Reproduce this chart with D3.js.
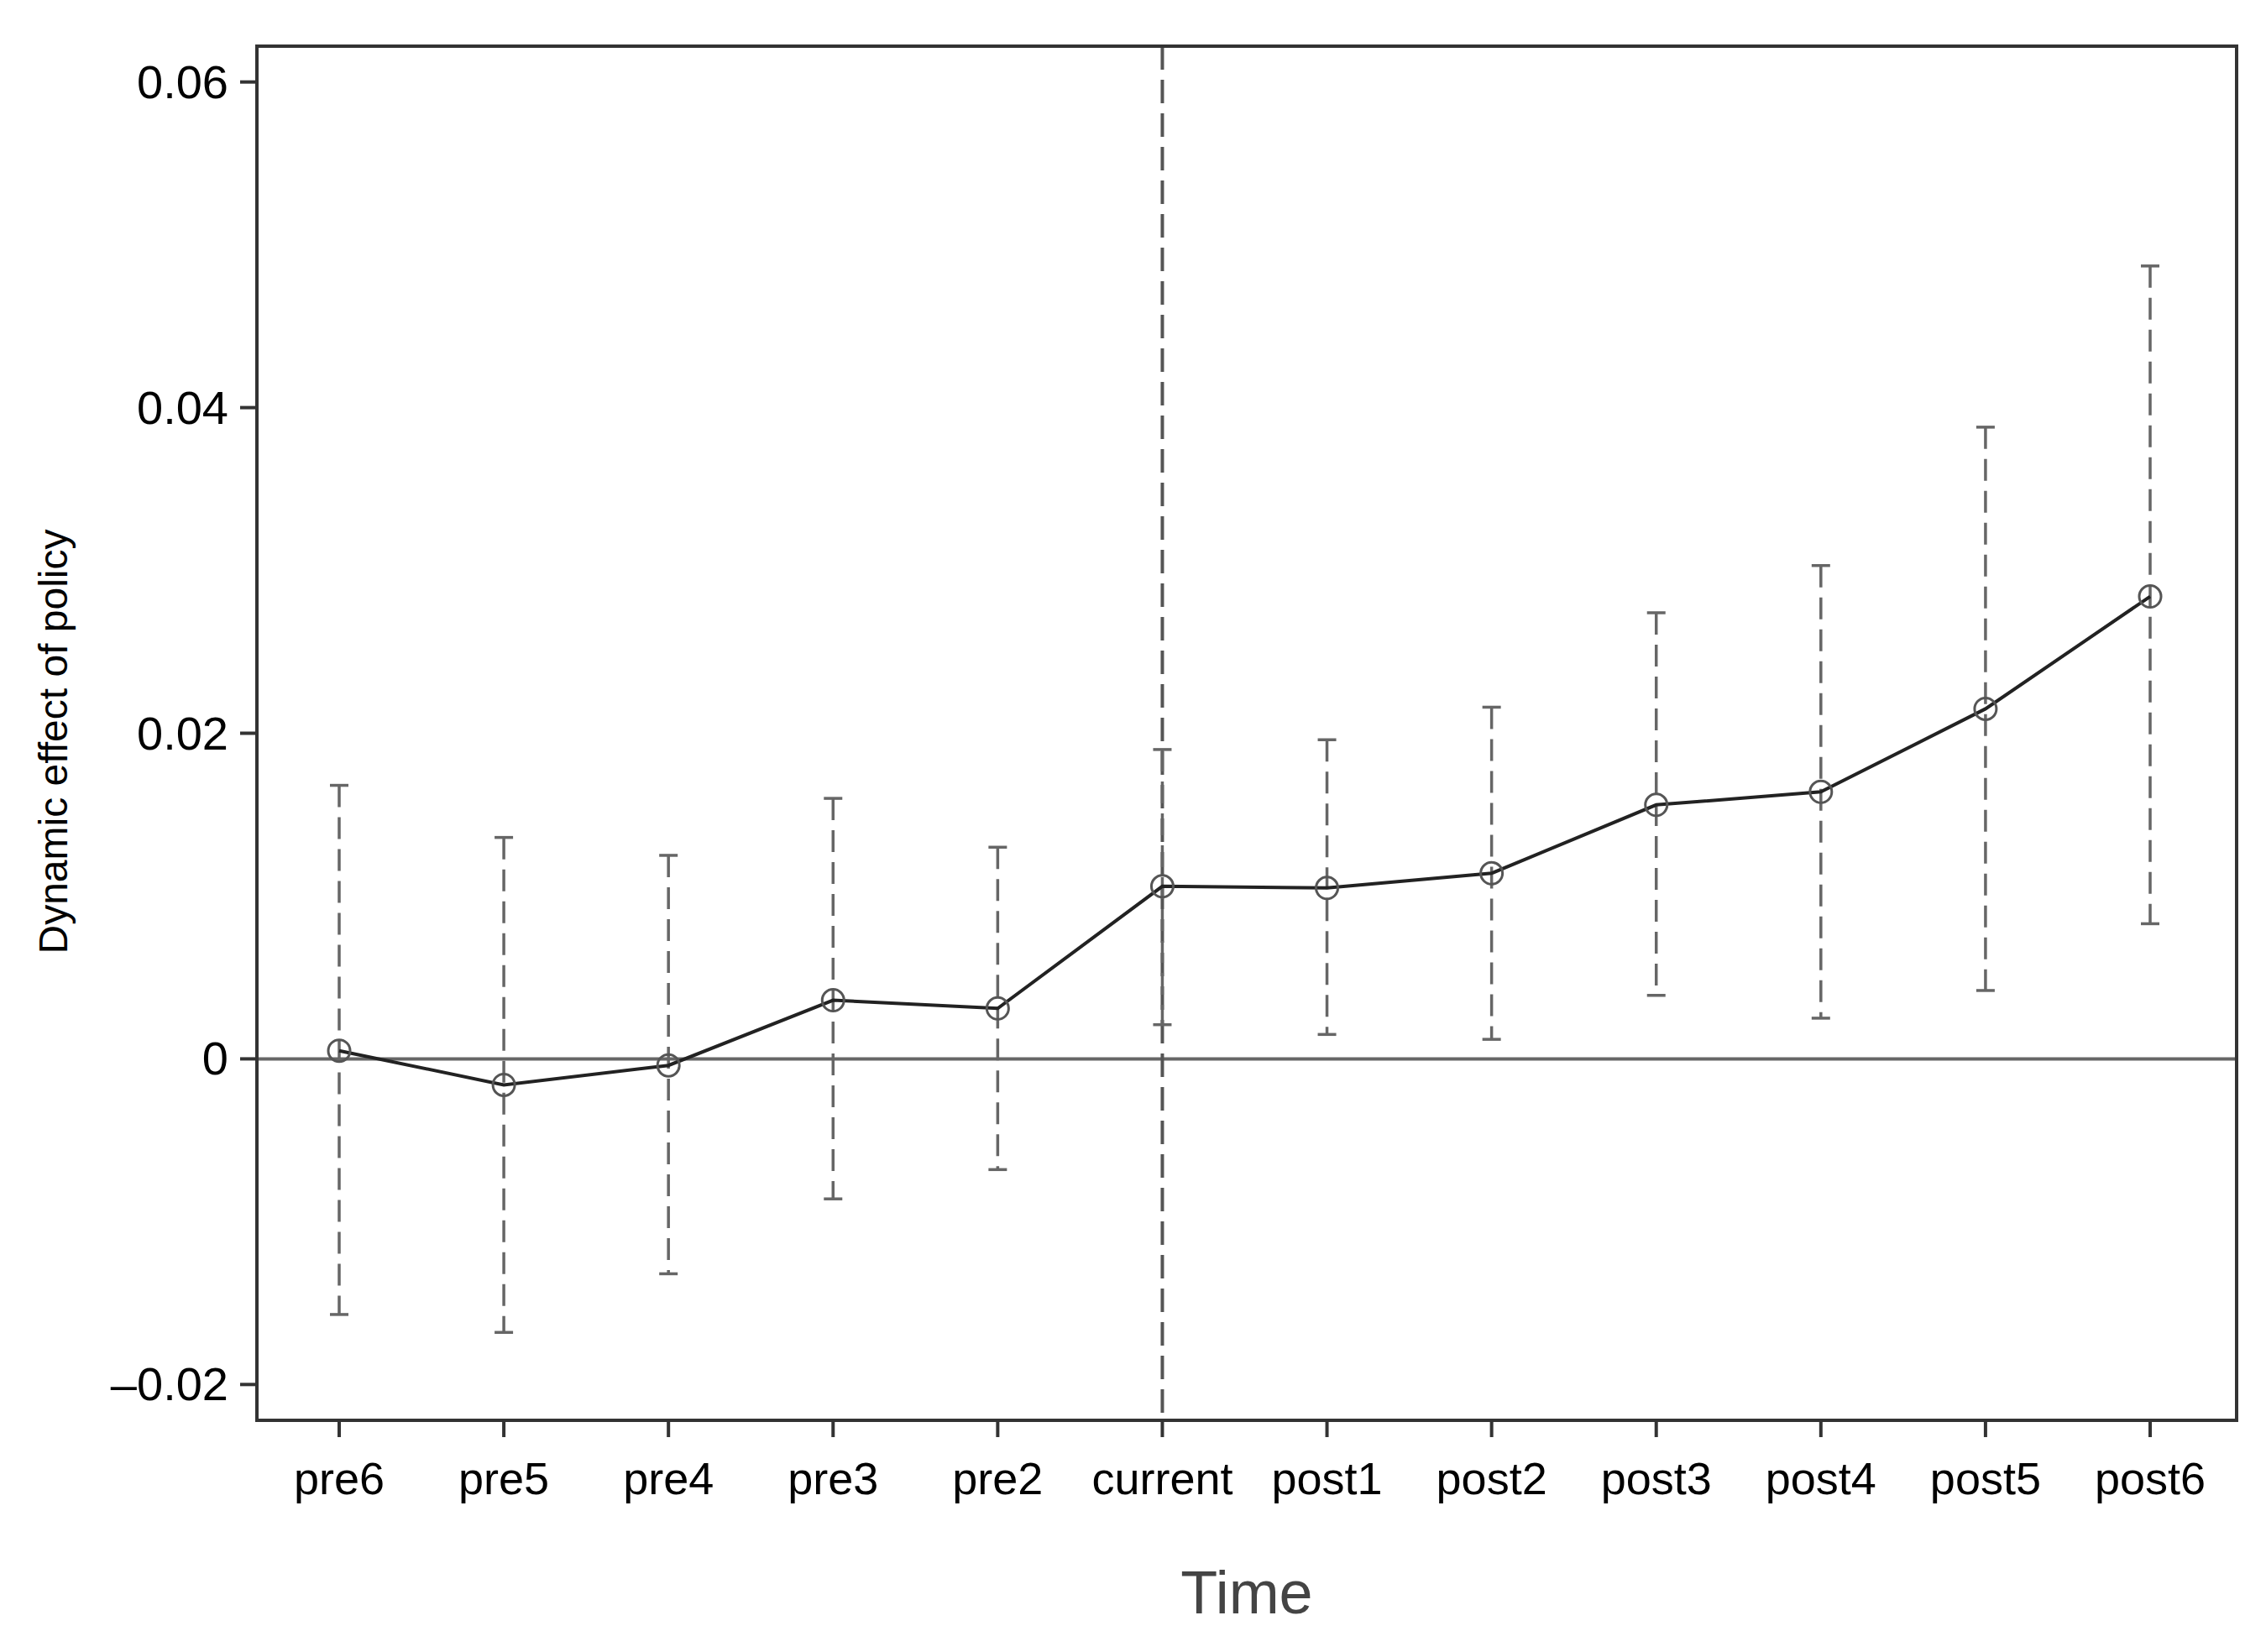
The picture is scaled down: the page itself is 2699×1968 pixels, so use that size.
<!DOCTYPE html>
<html><head><meta charset="utf-8">
<script src="https://cdn.jsdelivr.net/npm/d3@7"></script>
<style>body{margin:0;background:#fff}text{font-family:"Liberation Sans",Arial,sans-serif}</style>
</head><body><svg id="c" width="2699" height="1968"></svg>
<script>
var categories = ["pre6","pre5","pre4","pre3","pre2","current","post1","post2","post3","post4","post5","post6"];
var estimates = [0.0005,-0.0016,-0.0004,0.0036,0.0031,0.0106,0.0105,0.0114,0.0156,0.0164,0.0215,0.0284];
var upper = [0.0168,0.0136,0.0125,0.0160,0.0130,0.0190,0.0196,0.0216,0.0274,0.0303,0.0388,0.0487];
var lower = [-0.0157,-0.0168,-0.0132,-0.0086,-0.0068,0.0021,0.0015,0.0012,0.0039,0.0025,0.0042,0.0083];
var yTicks = [0.06,0.04,0.02,0,-0.02];
var yTickLabels = ["0.06","0.04","0.02","0","\u20130.02"];

var svg = d3.select("#c");
var L = 306, R = 2664, T = 55, B = 1692;
var x = d3.scalePoint().domain(categories).range([404,2561]);
var y = d3.scaleLinear().domain([-0.0222,0.0622]).range([B,T]);

// zero line & event line
svg.append("line").attr("x1",L).attr("x2",R).attr("y1",y(0)).attr("y2",y(0))
  .style("stroke","#666").style("stroke-width",4);
svg.append("line").attr("x1",x("current")).attr("x2",x("current")).attr("y1",T).attr("y2",B)
  .style("stroke","#555").style("stroke-width",4).style("stroke-dasharray","28,12");

// error bars
var g = svg.append("g");
categories.forEach(function(c,i){
  g.append("line").attr("x1",x(c)).attr("x2",x(c)).attr("y1",y(upper[i])).attr("y2",y(lower[i]))
    .style("stroke","#666").style("stroke-width",3.5).style("stroke-dasharray","26,12");
  [upper[i],lower[i]].forEach(function(v){
    g.append("line").attr("x1",x(c)-11).attr("x2",x(c)+11).attr("y1",y(v)).attr("y2",y(v))
      .style("stroke","#666").style("stroke-width",3.5);
  });
});

// estimate line and markers
svg.append("path").datum(estimates)
  .attr("d", d3.line().x(function(d,i){return x(categories[i])}).y(function(d){return y(d)}))
  .style("fill","none").style("stroke","#222").style("stroke-width",4);
svg.selectAll("circle.pt").data(estimates).enter().append("circle")
  .attr("cx",function(d,i){return x(categories[i])}).attr("cy",function(d){return y(d)}).attr("r",13)
  .style("fill","none").style("stroke","#555").style("stroke-width",3);

// frame
svg.append("rect").attr("x",L).attr("y",T).attr("width",R-L).attr("height",B-T)
  .style("fill","none").style("stroke","#333").style("stroke-width",4);

// y axis
yTicks.forEach(function(t,i){
  svg.append("line").attr("x1",L-20).attr("x2",L).attr("y1",y(t)).attr("y2",y(t)).style("stroke","#333").style("stroke-width",4);
  svg.append("text").attr("x",L-34).attr("y",y(t)+19).attr("text-anchor","end")
    .style("font-size","56px").text(yTickLabels[i]);
});
// x axis
categories.forEach(function(c){
  svg.append("line").attr("x1",x(c)).attr("x2",x(c)).attr("y1",B).attr("y2",B+20).style("stroke","#333").style("stroke-width",4);
  svg.append("text").attr("x",x(c)).attr("y",B+88).attr("text-anchor","middle")
    .style("font-size","54px").text(c);
});
svg.append("text").attr("x",(L+R)/2).attr("y",1922).attr("text-anchor","middle")
  .style("font-size","72px").style("fill","#444").text("Time");
svg.append("text").attr("transform","translate(80,"+((T+B)/2+10)+") rotate(-90)").attr("text-anchor","middle")
  .style("font-size","48px").text("Dynamic effect of policy");
</script></body></html>
